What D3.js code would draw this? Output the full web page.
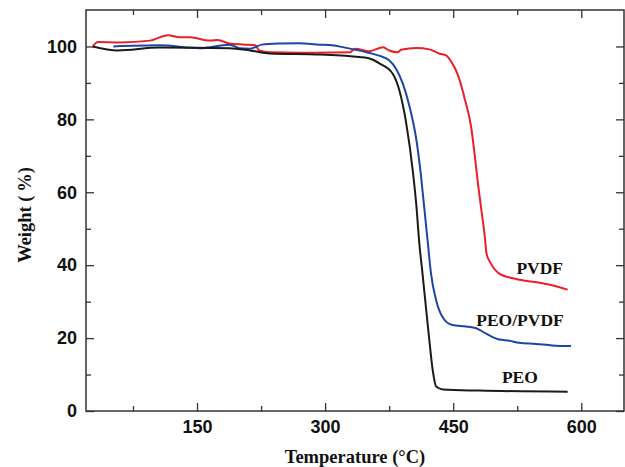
<!DOCTYPE html>
<html>
<head>
<meta charset="utf-8">
<script src="https://cdn.jsdelivr.net/npm/d3@7"></script>
<style>
    body { margin: 0; background: #fff; }
    .tick text { font-family: "Liberation Sans", Arial, sans-serif; font-weight: bold; font-size: 18px; fill: #111; }
    .tick line { stroke: #333; stroke-width: 1.3; }
    .axis-title, .series-label { font-family: "Liberation Serif", "Times New Roman", serif; font-weight: bold; fill: #111; }
</style>
</head>
<body>
<div id="chart"></div>
<script>

// temperature (°C) / weight (%)
let peoTemp   = [28, 57, 106, 188, 212, 235, 294, 340, 352, 364, 379, 387, 395, 403, 407, 410, 414, 418, 422, 426, 430, 438, 481, 584];
let peoWeight = [100, 98.9, 99.7, 99.5, 98.9, 98.1, 97.8, 97.1, 96.7, 95.3, 92.6, 87.9, 78.9, 65.2, 56, 46.8, 37.8, 28.6, 19.5, 11.2, 6.7, 5.9, 5.6, 5.3];

let blendTemp   = [52, 106, 153, 188, 200, 212, 226, 247, 270, 294, 305, 329, 352, 364, 375, 383, 391, 399, 407, 412, 416, 420, 424, 430, 438, 449, 465, 477, 488, 504, 516, 527, 547, 566, 588];
let blendWeight = [100, 100.3, 99.5, 100.5, 99.5, 99.4, 100.5, 100.8, 100.9, 100.5, 100.4, 99.4, 98.2, 97.4, 96.2, 93.9, 89.8, 83.4, 74.2, 65.1, 56, 46.8, 37.7, 30.4, 25.6, 23.6, 23.2, 22.7, 21.3, 19.6, 19.3, 18.7, 18.4, 18, 17.8];

let pvdfTemp   = [28, 34, 60, 95, 116, 130, 142, 165, 174, 188, 206, 218, 223, 235, 270, 329, 335, 352, 368, 375, 385, 389, 407, 422, 434, 442, 448, 455, 464, 471, 475, 479, 483, 487, 489, 494, 504, 520, 535, 551, 566, 584];
let pvdfWeight = [100, 101.2, 101.1, 101.6, 103.1, 102.5, 102.5, 101.6, 101.8, 100.8, 100.5, 100.3, 98.9, 98.4, 98.3, 98.4, 99.4, 98.7, 99.8, 98.9, 98.4, 99.1, 99.6, 99.2, 98, 97.5, 95.7, 92.5, 85.2, 77.9, 70.6, 62.4, 55.1, 47.8, 43.2, 40.5, 37.7, 36.4, 35.7, 35.2, 34.5, 33.3];

let seriesNames  = ["PEO", "PEO/PVDF", "PVDF"];
let seriesColors = ["#1a1a1a", "#1f45a3", "#ec1f28"];
// label anchor (start x, baseline) in data units
let labelTemp   = [507, 477, 524];
let labelWeight = [7.8, 23.3, 37.7];

let xMajor = [150, 300, 450, 600];
let xMinor = [75, 225, 375, 525];
let yMajor = [0, 20, 40, 60, 80, 100];
let yMinor = [10, 30, 50, 70, 90];

let margin = {top: 10, right: 1, bottom: 56, left: 86};
let width = 625 - margin.left - margin.right;
let height = 467 - margin.top - margin.bottom;

let svg = d3.select("#chart").append("svg")
    .attr("width", 625)
    .attr("height", 467);

let g = svg.append("g")
    .attr("transform", `translate(${margin.left}, ${margin.top})`);

let x = d3.scaleLinear().domain([20, 650]).range([0, width]);
let y = d3.scaleLinear().domain([0, 110]).range([height, 0]);

// axes, ticks pointing into the plot
g.append("g")
    .attr("transform", `translate(0, ${height})`)
    .call(d3.axisBottom(x).tickValues(xMajor).tickSizeInner(-8).tickSizeOuter(0).tickPadding(9))
    .call(a => a.select(".domain").remove());
g.append("g")
    .attr("transform", `translate(0, ${height})`)
    .call(d3.axisBottom(x).tickValues(xMinor).tickSizeInner(-5).tickSizeOuter(0).tickFormat(""))
    .call(a => a.select(".domain").remove());
g.append("g")
    .call(d3.axisTop(x).tickValues(xMajor).tickSizeInner(-8).tickSizeOuter(0).tickFormat(""))
    .call(a => a.select(".domain").remove());
g.append("g")
    .call(d3.axisTop(x).tickValues(xMinor).tickSizeInner(-5).tickSizeOuter(0).tickFormat(""))
    .call(a => a.select(".domain").remove());

g.append("g")
    .call(d3.axisLeft(y).tickValues(yMajor).tickSizeInner(-8).tickSizeOuter(0).tickPadding(9))
    .call(a => a.select(".domain").remove());
g.append("g")
    .call(d3.axisLeft(y).tickValues(yMinor).tickSizeInner(-5).tickSizeOuter(0).tickFormat(""))
    .call(a => a.select(".domain").remove());
g.append("g")
    .attr("transform", `translate(${width}, 0)`)
    .call(d3.axisRight(y).tickValues(yMajor).tickSizeInner(-8).tickSizeOuter(0).tickFormat(""))
    .call(a => a.select(".domain").remove());
g.append("g")
    .attr("transform", `translate(${width}, 0)`)
    .call(d3.axisRight(y).tickValues(yMinor).tickSizeInner(-5).tickSizeOuter(0).tickFormat(""))
    .call(a => a.select(".domain").remove());

// frame
g.append("rect")
    .attr("width", width)
    .attr("height", height)
    .attr("fill", "none")
    .attr("stroke", "#333")
    .attr("stroke-width", 1.5);

// curves
let line = d3.line()
    .x(d => x(d[0]))
    .y(d => y(d[1]))
    .curve(d3.curveMonotoneX);

let series = [
    d3.zip(peoTemp, peoWeight),
    d3.zip(blendTemp, blendWeight),
    d3.zip(pvdfTemp, pvdfWeight)
];

// draw PVDF, blend, then PEO so black sits on top at the start
[2, 1, 0].forEach(i => {
    g.append("path")
        .datum(series[i])
        .attr("fill", "none")
        .attr("stroke", seriesColors[i])
        .attr("stroke-width", 2)
        .attr("stroke-linejoin", "round")
        .attr("d", line);
});

seriesNames.forEach((name, i) => {
    g.append("text")
        .attr("class", "series-label")
        .attr("x", x(labelTemp[i]))
        .attr("y", y(labelWeight[i]))
        .style("font-size", "17.5px")
        .text(name);
});

// axis titles
svg.append("text")
    .attr("class", "axis-title")
    .attr("x", margin.left + width / 2)
    .attr("y", 463)
    .attr("text-anchor", "middle")
    .style("font-size", "18.5px")
    .text("Temperature (°C)");

svg.append("text")
    .attr("class", "axis-title")
    .attr("transform", `translate(31, 215) rotate(-90)`)
    .attr("text-anchor", "middle")
    .style("font-size", "18.5px")
    .text("Weight (\u2009%)");

</script>
</body>
</html>
